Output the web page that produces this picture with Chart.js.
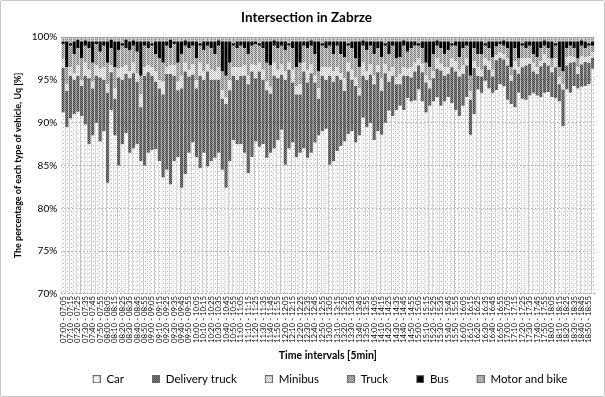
<!DOCTYPE html>
<html>
<head>
<meta charset="utf-8">
<script src="https://cdn.jsdelivr.net/npm/chart.js@4.4.1/dist/chart.umd.min.js"></script>
<style>
html,body{margin:0;padding:0;background:#fff;}
#wrap{width:605px;height:397px;box-sizing:border-box;border:1px solid #c6c6c6;border-radius:2px;background:#fff;}
canvas{display:block;}
</style>
</head>
<body>
<div id="wrap"><canvas id="c" width="603" height="395"></canvas></div>
<script>
const intervals = [
"07:00 - 07:05","07:05 - 07:10","07:10 - 07:15","07:15 - 07:20","07:20 - 07:25","07:25 - 07:30","07:30 - 07:35","07:35 - 07:40","07:40 - 07:45","07:45 - 07:50","07:50 - 07:55","07:55 - 08:00",
"08:00 - 08:05","08:05 - 08:10","08:10 - 08:15","08:15 - 08:20","08:20 - 08:25","08:25 - 08:30","08:30 - 08:35","08:35 - 08:40","08:40 - 08:45","08:45 - 08:50","08:50 - 08:55","08:55 - 09:00",
"09:00 - 09:05","09:05 - 09:10","09:10 - 09:15","09:15 - 09:20","09:20 - 09:25","09:25 - 09:30","09:30 - 09:35","09:35 - 09:40","09:40 - 09:45","09:45 - 09:50","09:50 - 09:55","09:55 - 10:00",
"10:00 - 10:05","10:05 - 10:10","10:10 - 10:15","10:15 - 10:20","10:20 - 10:25","10:25 - 10:30","10:30 - 10:35","10:35 - 10:40","10:40 - 10:45","10:45 - 10:50","10:50 - 10:55","10:55 - 11:00",
"11:00 - 11:05","11:05 - 11:10","11:10 - 11:15","11:15 - 11:20","11:20 - 11:25","11:25 - 11:30","11:30 - 11:35","11:35 - 11:40","11:40 - 11:45","11:45 - 11:50","11:50 - 11:55","11:55 - 12:00",
"12:00 - 12:05","12:05 - 12:10","12:10 - 12:15","12:15 - 12:20","12:20 - 12:25","12:25 - 12:30","12:30 - 12:35","12:35 - 12:40","12:40 - 12:45","12:45 - 12:50","12:50 - 12:55","12:55 - 13:00",
"13:00 - 13:05","13:05 - 13:10","13:10 - 13:15","13:15 - 13:20","13:20 - 13:25","13:25 - 13:30","13:30 - 13:35","13:35 - 13:40","13:40 - 13:45","13:45 - 13:50","13:50 - 13:55","13:55 - 14:00",
"14:00 - 14:05","14:05 - 14:10","14:10 - 14:15","14:15 - 14:20","14:20 - 14:25","14:25 - 14:30","14:30 - 14:35","14:35 - 14:40","14:40 - 14:45","14:45 - 14:50","14:50 - 14:55","14:55 - 15:00",
"15:00 - 15:05","15:05 - 15:10","15:10 - 15:15","15:15 - 15:20","15:20 - 15:25","15:25 - 15:30","15:30 - 15:35","15:35 - 15:40","15:40 - 15:45","15:45 - 15:50","15:50 - 15:55","15:55 - 16:00",
"16:00 - 16:05","16:05 - 16:10","16:10 - 16:15","16:15 - 16:20","16:20 - 16:25","16:25 - 16:30","16:30 - 16:35","16:35 - 16:40","16:40 - 16:45","16:45 - 16:50","16:50 - 16:55","16:55 - 17:00",
"17:00 - 17:05","17:05 - 17:10","17:10 - 17:15","17:15 - 17:20","17:20 - 17:25","17:25 - 17:30","17:30 - 17:35","17:35 - 17:40","17:40 - 17:45","17:45 - 17:50","17:50 - 17:55","17:55 - 18:00",
"18:00 - 18:05","18:05 - 18:10","18:10 - 18:15","18:15 - 18:20","18:20 - 18:25","18:25 - 18:30","18:30 - 18:35","18:35 - 18:40","18:40 - 18:45","18:45 - 18:50","18:50 - 18:55","18:55 - 19:00"
];

const car = [
91.2,89.5,90.5,91.0,91.3,90.8,89.8,87.5,88.5,90.0,87.8,89.0,
83.0,91.5,88.5,85.0,87.5,88.8,86.5,87.0,87.5,85.5,85.0,86.5,
86.8,86.9,85.5,83.6,84.5,82.8,85.5,86.0,82.4,84.0,86.5,87.7,
86.0,84.7,86.5,84.9,85.5,85.9,86.5,84.5,82.4,85.5,88.0,87.5,
87.5,86.5,84.1,86.0,87.8,87.2,87.5,85.9,86.5,87.0,88.0,89.2,
85.1,87.0,87.7,86.0,86.5,87.0,85.9,86.5,87.7,88.5,89.0,89.3,
85.1,85.5,86.7,87.3,87.8,88.7,89.0,87.7,88.5,90.6,89.5,90.0,
88.0,89.0,88.6,90.0,91.4,90.8,91.5,92.0,91.5,92.9,92.5,92.6,
93.9,92.5,91.2,92.0,92.5,93.0,92.0,92.5,93.0,92.3,91.5,90.8,
92.0,93.0,88.6,91.0,93.9,93.5,94.9,94.0,93.5,93.8,94.5,94.3,
92.7,92.2,91.8,93.5,92.8,92.7,93.2,93.5,93.2,93.0,93.5,93.6,
93.0,92.9,92.5,89.6,93.9,93.5,94.3,94.0,94.2,94.3,94.5,96.3
];
const deliveryTruck = [
5.2,4.2,5.0,4.0,4.2,3.5,5.7,7.7,5.5,5.5,7.5,6.0,
10.5,4.4,4.3,10.3,7.5,6.9,8.7,8.8,7.3,6.3,10.5,9.4,
8.7,7.9,8.5,9.7,11.2,12.9,10.0,7.8,11.6,12.0,8.9,7.9,
8.0,10.8,8.5,11.1,9.5,9.1,8.5,8.3,9.8,8.3,7.5,7.5,
8.0,9.0,10.4,10.0,7.4,8.8,7.5,7.9,6.9,8.5,7.2,6.4,
9.9,9.2,7.0,7.3,6.8,9.0,8.8,9.3,7.0,4.3,6.5,5.7,
10.4,9.3,8.8,7.7,5.9,7.3,6.0,6.6,4.7,4.9,5.5,5.6,
6.5,6.9,5.1,5.8,3.4,4.7,3.0,2.5,4.0,2.6,2.8,3.4,
2.8,3.4,3.5,2.0,2.7,3.3,4.1,3.0,2.7,4.2,4.5,4.6,
3.7,3.7,4.1,5.4,1.6,1.9,1.8,2.2,1.9,3.5,3.1,3.1,
4.0,2.7,4.4,2.2,3.7,4.0,3.7,2.5,2.5,3.6,3.5,3.1,
2.9,3.6,2.0,4.3,2.8,3.5,2.8,1.7,2.6,2.8,2.5,1.3
];
const minibus = [
1.0,0.8,1.0,0.8,1.2,0.7,1.5,1.0,0.8,1.2,1.0,1.5,
1.0,0.8,1.2,1.0,1.5,1.0,0.8,1.2,1.0,1.5,1.0,0.8,
1.0,1.2,1.0,1.5,0.8,1.0,1.2,1.0,1.5,1.0,0.8,1.2,
1.0,1.5,1.0,0.8,1.2,1.0,1.5,1.0,0.8,1.2,1.0,1.5,
1.0,1.2,1.0,0.8,1.5,1.0,1.2,1.0,0.8,1.5,1.0,1.2,
1.0,0.8,1.5,1.0,1.2,1.0,1.5,1.0,0.8,1.2,1.0,1.5,
1.0,1.2,1.0,0.8,1.5,1.0,1.2,1.0,0.8,1.5,1.0,1.2,
1.0,0.8,1.5,1.0,1.2,1.0,0.8,1.2,1.0,0.8,1.2,1.0,
0.8,1.0,0.8,1.0,0.8,1.2,0.8,1.0,0.8,1.0,1.2,0.8,
1.0,0.8,1.0,0.8,1.0,0.8,0.8,1.0,0.8,0.6,0.6,0.6,
0.8,0.6,1.0,0.8,1.0,0.8,0.6,1.0,0.8,0.6,1.0,0.8,
0.6,1.0,0.8,0.6,1.0,0.8,0.6,0.8,1.0,0.6,0.8,0.6
];
const truck = [
1.8,2.0,2.5,2.2,2.0,2.5,2.0,2.5,2.2,2.5,2.0,2.5,
2.5,2.0,2.5,2.2,2.5,2.0,2.5,2.0,2.5,2.2,2.5,2.0,
2.5,2.0,2.5,2.2,2.5,2.0,2.5,2.2,2.5,2.0,2.5,2.2,
2.5,2.0,2.5,2.2,2.5,2.0,2.5,2.2,2.5,2.0,2.5,2.2,
2.5,2.0,2.5,2.2,2.5,2.0,2.5,2.2,2.5,2.0,2.5,2.2,
2.5,2.0,2.5,2.2,2.5,2.0,2.5,2.2,2.5,2.0,2.5,2.2,
2.5,2.0,2.5,2.2,2.5,2.0,2.5,2.2,2.5,2.0,2.5,2.2,
2.5,2.0,2.5,2.2,2.0,2.5,2.2,2.0,2.5,2.0,2.2,2.0,
1.5,1.8,1.5,1.5,2.0,1.5,1.8,1.5,2.0,1.5,1.8,1.5,
2.0,1.5,1.8,1.5,1.5,1.8,1.5,1.5,1.5,1.0,1.0,1.0,
1.2,1.0,1.5,1.0,1.5,1.2,1.5,1.0,1.2,1.5,1.0,1.2,
1.0,1.5,1.2,1.5,1.0,1.2,1.0,1.0,1.2,1.0,1.2,0.8
];
const bus = [
0.3,3.0,0.3,1.5,1.0,2.0,0.6,0.8,2.5,0.3,1.2,0.5,
2.5,1.0,3.0,1.0,0.3,1.0,1.0,0.6,1.2,4.0,0.5,0.8,
0.3,1.5,2.0,2.5,0.5,1.0,0.3,2.5,1.5,0.6,0.8,0.5,
2.0,0.3,1.0,0.5,0.8,1.5,0.6,3.5,4.0,2.5,0.3,0.8,
0.5,0.8,1.5,0.5,0.3,0.3,0.8,2.5,2.8,0.6,0.8,0.5,
1.0,0.3,0.8,3.0,2.5,0.5,0.8,0.6,1.5,3.5,0.3,0.8,
0.5,1.5,0.5,1.5,1.8,0.3,0.8,2.0,3.0,0.6,1.0,0.5,
1.5,0.8,1.8,0.3,1.5,0.5,2.0,1.8,0.6,1.2,0.8,0.5,
0.3,0.8,2.5,3.0,1.5,0.6,0.8,1.5,1.0,0.3,0.5,1.8,
0.8,0.5,4.0,0.8,1.5,1.5,0.3,0.8,1.8,0.6,0.3,0.6,
0.8,3.0,0.8,2.0,0.3,0.8,0.5,1.5,1.8,0.8,0.6,0.8,
2.0,0.3,3.0,3.5,0.8,0.5,0.8,2.0,0.6,0.8,0.3,0.5
];
const motorBike = [
0.5,0.5,0.7,0.5,0.3,0.5,0.4,0.5,0.5,0.5,0.5,0.5,
0.5,0.3,0.5,0.5,0.7,0.3,0.5,0.4,0.5,0.5,0.5,0.5,
0.7,0.5,0.5,0.5,0.5,0.3,0.5,0.5,0.5,0.4,0.5,0.5,
0.5,0.7,0.5,0.5,0.5,0.5,0.4,0.5,0.5,0.5,0.7,0.5,
0.5,0.5,0.5,0.5,0.5,0.7,0.5,0.5,0.5,0.4,0.5,0.5,
0.5,0.7,0.5,0.5,0.5,0.5,0.5,0.4,0.5,0.5,0.7,0.5,
0.5,0.5,0.5,0.5,0.5,0.7,0.5,0.5,0.5,0.4,0.5,0.5,
0.5,0.5,0.5,0.7,0.5,0.5,0.5,0.5,0.4,0.5,0.5,0.5,
0.7,0.5,0.5,0.5,0.5,0.4,0.5,0.5,0.5,0.7,0.5,0.5,
0.5,0.5,0.5,0.5,0.5,0.5,0.7,0.5,0.5,0.5,0.5,0.4,
0.5,0.5,0.5,0.5,0.7,0.5,0.5,0.5,0.5,0.5,0.4,0.5,
0.5,0.7,0.5,0.5,0.5,0.5,0.5,0.5,0.4,0.5,0.7,0.5
];
const yTicks = [70, 75, 80, 85, 90, 95, 100];

const cv = document.getElementById('c');
const ctx0 = cv.getContext('2d');
function tile(size, bg, fg, cells) {
  const c = document.createElement('canvas');
  c.width = size; c.height = size;
  const g = c.getContext('2d');
  g.fillStyle = bg; g.fillRect(0, 0, size, size);
  g.fillStyle = fg;
  cells.forEach(p => g.fillRect(p[0], p[1], 1, 1));
  return c;
}
const tiles = {
  car: tile(4, '#ffffff', '#b4b4b4', [[0,0],[2,2]]),
  delivery: tile(2, '#858585', '#454545', [[0,0],[1,1]]),
  minibus: tile(2, '#ffffff', '#b8b8b8', [[0,0],[1,1]]),
  truck: tile(2, '#cccccc', '#727272', [[0,0],[1,1]]),
  bus: tile(2, '#000000', '#000000', []),
  motor: tile(4, '#bdbdbd', '#8a8a8a', [[0,0],[2,0],[0,2],[2,2]])
};
const pat = t => ctx0.createPattern(t, 'repeat');

// legend marker: transparent lead-in, then a 7x7 patterned square with a thin border
const LEAD = 29;
function marker(t) {
  const c = document.createElement('canvas');
  c.width = LEAD; c.height = 8;
  const g = c.getContext('2d');
  g.fillStyle = g.createPattern(t, 'repeat');
  g.fillRect(LEAD - 8, 0, 8, 8);
  g.strokeStyle = '#6a6a6a'; g.lineWidth = 1;
  g.strokeRect(LEAD - 7.5, 0.5, 7, 7);
  return c;
}

const FONT = 'Lato, "Liberation Sans", sans-serif';

ctx0.font = '10px ' + FONT;
const wRef = ctx0.measureText('07:00 - 07:05').width;
const tickSize = Math.round(10 * 47 / wRef * 10) / 10;

const common = { stack: 's', categoryPercentage: 0.86, barPercentage: 1.0, borderWidth: 0 };

const legendShift = {
  id: 'legendShift',
  afterLayout(chart) {
    const lg = chart.legend;
    if (lg) { lg.left += 13; lg.right += 13; }
  }
};

new Chart(cv, {
  type: 'bar',
  data: {
    labels: intervals,
    datasets: [
      { label: 'Car', data: car, backgroundColor: pat(tiles.car), borderColor: '#c2c2c2', borderWidth: {left: 1, right: 0, top: 0, bottom: 0}, borderSkipped: false, stack: 's', categoryPercentage: 0.86, barPercentage: 1.0, pointStyle: marker(tiles.car) },
      Object.assign({ label: 'Delivery truck', data: deliveryTruck, backgroundColor: pat(tiles.delivery), pointStyle: marker(tiles.delivery) }, common),
      Object.assign({ label: 'Minibus', data: minibus, backgroundColor: pat(tiles.minibus), pointStyle: marker(tiles.minibus) }, common),
      Object.assign({ label: 'Truck', data: truck, backgroundColor: pat(tiles.truck), pointStyle: marker(tiles.truck) }, common),
      Object.assign({ label: 'Bus', data: bus, backgroundColor: '#000000', pointStyle: marker(tiles.bus) }, common),
      Object.assign({ label: 'Motor and bike', data: motorBike, backgroundColor: pat(tiles.motor), pointStyle: marker(tiles.motor) }, common)
    ]
  },
  plugins: [legendShift],
  options: {
    responsive: false,
    animation: false,
    devicePixelRatio: 1,
    layout: { padding: { left: 12, right: 4, top: 0, bottom: 1 } },
    plugins: {
      title: {
        display: true, text: 'Intersection in Zabrze', color: '#000',
        font: { family: FONT, size: 13.5, weight: 'bold' },
        padding: { top: 9, bottom: 11 }
      },
      legend: {
        position: 'bottom',
        labels: {
          color: '#000', font: { family: FONT, size: 11.5 },
          usePointStyle: true, pointStyleWidth: LEAD, boxHeight: 8, padding: 7
        }
      },
      tooltip: { enabled: false }
    },
    scales: {
      x: {
        stacked: true,
        grid: { display: false, drawTicks: false },
        border: { display: true, color: '#8c8c8c', width: 1 },
        ticks: {
          autoSkip: false, minRotation: 90, maxRotation: 90, padding: 2,
          color: '#000', font: { family: FONT, size: tickSize },
          callback: function(v, i) { return i % 2 === 0 ? intervals[i] : ''; }
        },
        title: {
          display: true, text: 'Time intervals [5min]', color: '#000',
          font: { family: FONT, size: 10.5, weight: 'bold' }, padding: { top: 4, bottom: 5 }
        }
      },
      y: {
        stacked: true, min: 70, max: 100,
        afterBuildTicks(axis) { axis.ticks = yTicks.map(v => ({ value: v })); },
        grid: { color: '#a6a6a6', lineWidth: 1, drawTicks: false },
        border: { display: false },
        ticks: {
          color: '#000', font: { family: FONT, size: 10 }, padding: 4,
          callback: v => v + '%'
        },
        title: {
          display: true, text: 'The percentage of each type of vehicle, Uq [%]', color: '#000',
          font: { family: FONT, size: 9, weight: 'bold' }, padding: { top: 0, bottom: 4 }
        }
      }
    }
  }
});
</script>
</body>
</html>
